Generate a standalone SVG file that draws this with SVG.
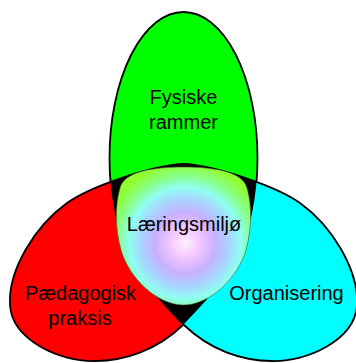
<svg xmlns="http://www.w3.org/2000/svg" width="356" height="363" viewBox="0 0 356 363">
<style>
.sh{stroke:#000;stroke-width:1.8}
.lbl{font-family:"Liberation Sans",Arial,sans-serif;font-size:20px;fill:#000;text-anchor:middle}
</style>
<defs>
<ellipse id="eg" cx="183.5" cy="158" rx="74" ry="146"/>
<path id="er" d="M10,305 C8,270 35,226 67,203 C90,186.5 150,166 183,164 C220,166 248,200 240,240 C236,268 215,292 183,325 C157,350 125,361 95,361 C60,362 12,340 10,305 Z"/>
<use id="ec" href="#er" transform="matrix(-1 0 0 1 367 0)"/>
<clipPath id="cg"><use href="#eg"/></clipPath>
<clipPath id="cr"><use href="#er"/></clipPath>
<radialGradient id="bg" gradientUnits="userSpaceOnUse" cx="185" cy="243" r="80">
<stop offset="0" stop-color="#fff0ff"/>
<stop offset="0.18" stop-color="#f4c8ff"/>
<stop offset="0.38" stop-color="#c8b0ff"/>
<stop offset="0.55" stop-color="#a8d4ff"/>
<stop offset="0.7" stop-color="#90fff0"/>
<stop offset="0.83" stop-color="#88ff90"/>
<stop offset="1" stop-color="#90ff30"/>
</radialGradient>
</defs>
<g id="fysiske">
<use href="#eg" fill="#00ff00" class="sh"/>
</g>
<g id="paedagogisk">
<use href="#er" fill="#ff0000" class="sh"/>
</g>
<g id="organisering">
<use href="#ec" fill="#00ffff" class="sh"/>
</g>
<g id="overlaps" fill="#000">
<use href="#er" clip-path="url(#cg)"/>
<use href="#ec" clip-path="url(#cg)"/>
<use href="#ec" clip-path="url(#cr)"/>
</g>
<g id="laeringsmiljo">
<path d="M183.5,167 C215,167 243,172 247,188 C252,205 252,228 246,250 C238,278 210,305 183.5,305 C157,305 129,278 121,250 C115,228 115,205 120,188 C124,172 152,167 183.5,167 Z" fill="url(#bg)" stroke="#3a5a3a" stroke-width="0.6"/>
</g>
<g id="labels">
<text class="lbl" x="183.5" y="104">Fysiske</text>
<text class="lbl" x="183.5" y="129">rammer</text>
<text class="lbl" x="184" y="231">Læringsmiljø</text>
<text class="lbl" x="80.5" y="300">Pædagogisk</text>
<text class="lbl" x="80" y="325">praksis</text>
<text class="lbl" x="286.5" y="300">Organisering</text>
</g>
</svg>
